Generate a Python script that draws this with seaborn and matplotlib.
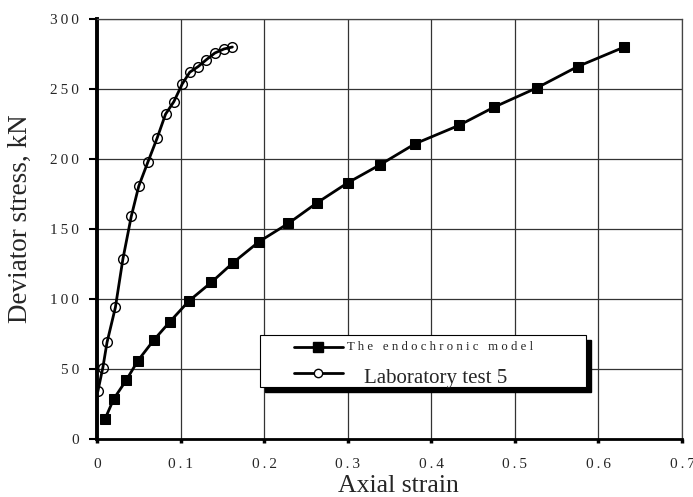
import matplotlib
matplotlib.use("Agg")
import matplotlib.pyplot as plt
import seaborn as sns
import pandas as pd
from matplotlib.lines import Line2D
from matplotlib.patches import Rectangle
from matplotlib.ticker import FuncFormatter

# Data
model_strain = [0.0096, 0.020, 0.035, 0.049, 0.068, 0.087, 0.110, 0.137, 0.163, 0.194,
                0.229, 0.263, 0.300, 0.339, 0.381, 0.433, 0.475, 0.527, 0.575, 0.631]
model_stress = [14.3, 28.6, 42.0, 56.0, 70.7, 83.6, 98.6, 112.0, 126.0, 141.0,
                154.0, 168.6, 183.0, 196.0, 211.0, 224.0, 237.0, 251.0, 266.0, 280.0]

lab_strain = [0.001, 0.007, 0.012, 0.022, 0.031, 0.041, 0.050, 0.061, 0.072, 0.082,
              0.092, 0.102, 0.111, 0.121, 0.131, 0.141, 0.152, 0.162]
lab_stress = [34.0, 51.0, 69.0, 94.0, 128.6, 159.0, 180.7, 198.0, 215.0, 232.0,
              241.0, 253.6, 262.0, 266.0, 271.0, 275.7, 278.6, 280.0]

labels = ["The endochronic model", "Laboratory test 5"]
x_ticks = [0, 0.1, 0.2, 0.3, 0.4, 0.5, 0.6, 0.7]
y_ticks = [0, 50, 100, 150, 200, 250, 300]

sns.set_theme(style="white")
plt.rcParams['font.family'] = ['Liberation Serif', 'DejaVu Serif']

fig = plt.figure(figsize=(6.93, 4.97), dpi=100)
ax = fig.add_axes([97/693, 1-439/497, (682-97)/693, (439-19)/497])

df_m = pd.DataFrame({"strain": model_strain, "stress": model_stress})
df_l = pd.DataFrame({"strain": lab_strain, "stress": lab_stress})

sns.lineplot(data=df_m, x="strain", y="stress", ax=ax, sort=False, color="black",
             linewidth=2.0, marker="s", markersize=7.5, markeredgecolor="black",
             markerfacecolor="black", zorder=4)
sns.lineplot(data=df_l, x="strain", y="stress", ax=ax, sort=False, color="black",
             linewidth=2.0, marker="o", markersize=7, markeredgecolor="black",
             markerfacecolor="none", markeredgewidth=1.0, zorder=4)

ax.set_xlim(0, 0.7)
ax.set_ylim(0, 300)
ax.set_xticks(x_ticks)
ax.set_yticks(y_ticks)

def spaced(v, pos):
    s = ("%g" % v)
    return "\u2009".join(s)

ax.xaxis.set_major_formatter(FuncFormatter(spaced))
ax.yaxis.set_major_formatter(FuncFormatter(spaced))

ax.grid(True, color="#333333", linewidth=0.9)
ax.set_axisbelow(True)
for s in ["top", "right"]:
    ax.spines[s].set_visible(True)
    ax.spines[s].set_color("#444444")
    ax.spines[s].set_linewidth(0.9)
ax.spines["left"].set_color("black")
ax.spines["left"].set_linewidth(2.8)
ax.spines["bottom"].set_color("black")
ax.spines["bottom"].set_linewidth(2.0)

ax.tick_params(axis="y", which="major", direction="out", length=6, width=1.5,
               labelsize=11, pad=7, left=True, color="black")
ax.tick_params(axis="x", which="major", direction="out", length=3, width=2.5,
               labelsize=11, pad=11, bottom=True, color="black")

ax.set_xlabel("Axial strain", fontsize=18.5)
ax.set_ylabel("Deviator stress, kN", fontsize=19.5)
ax.xaxis.set_label_coords((398-97)/585, (439-475)/420)
ax.yaxis.set_label_coords((33-97)/585, (439-219)/420)

# Legend drawn as a framed box with drop shadow
def ax_x(px):
    return (px - 97) / 585

def ax_y(py):
    return (439 - py) / 420

bx0, bx1, by0, by1 = ax_x(260), ax_x(586), ax_y(387), ax_y(335)
shadow = Rectangle((bx0 + 5/585, by0 - 5/420), bx1 - bx0, by1 - by0,
                   transform=ax.transAxes, facecolor="black", edgecolor="black",
                   clip_on=False, zorder=9)
box = Rectangle((bx0, by0), bx1 - bx0, by1 - by0, transform=ax.transAxes,
                facecolor="white", edgecolor="black", linewidth=0.8,
                clip_on=False, zorder=10)
ax.add_patch(shadow)
ax.add_patch(box)

hx0, hx1, hm = ax_x(294), ax_x(343), ax_x(318)
r1, r2 = ax_y(347), ax_y(373)
ax.add_line(Line2D([hx0, hx1], [r1, r1], transform=ax.transAxes, color="black",
                   linewidth=2.0, clip_on=False, zorder=11))
ax.add_line(Line2D([hm], [r1], transform=ax.transAxes, marker="s", markersize=7.5,
                   color="black", linestyle="none", clip_on=False, zorder=12))
ax.add_line(Line2D([hx0, hx1], [r2, r2], transform=ax.transAxes, color="black",
                   linewidth=2.0, clip_on=False, zorder=11))
ax.add_line(Line2D([hm], [r2], transform=ax.transAxes, marker="o", markersize=6,
                   markerfacecolor="white", markeredgecolor="black",
                   markeredgewidth=1.0, linestyle="none", clip_on=False, zorder=12))
ax.text(ax_x(347), r1, " ".join(labels[0]), transform=ax.transAxes,
        fontsize=9.2, ha="left", va="center", zorder=12)
ax.text(ax_x(364), ax_y(383), labels[1], transform=ax.transAxes,
        fontsize=15, ha="left", va="baseline", zorder=12)

fig.savefig("out.png", dpi=100)
